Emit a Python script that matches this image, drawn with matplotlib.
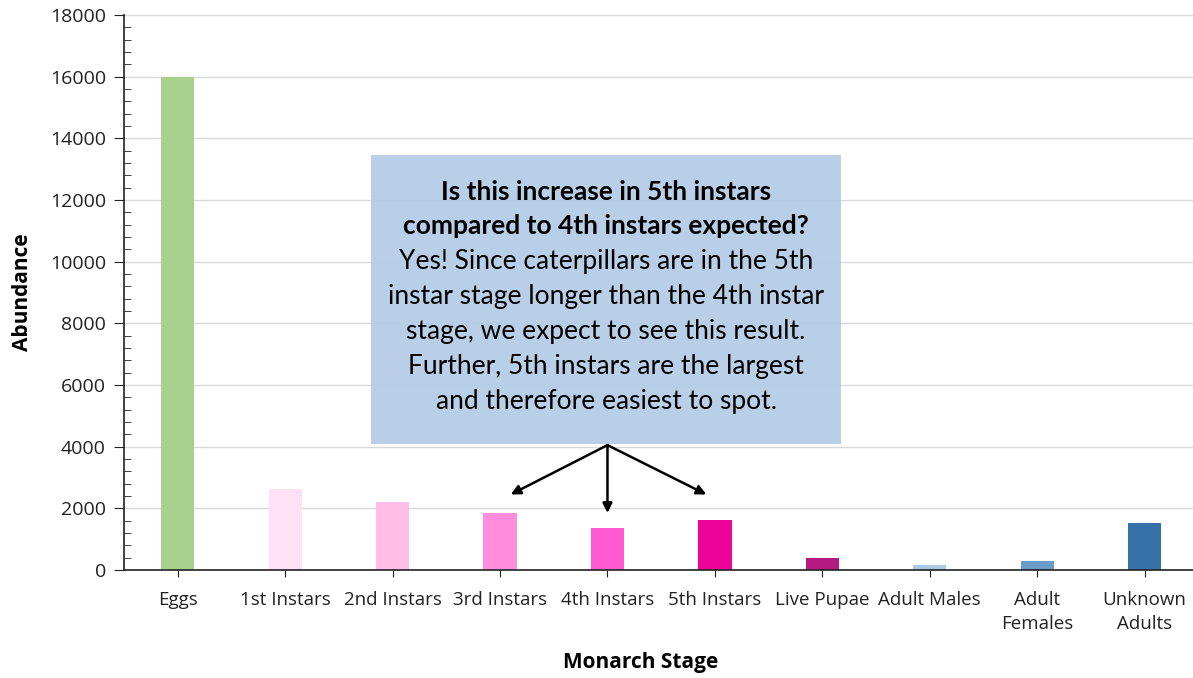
import matplotlib.pyplot as plt
from matplotlib.ticker import MultipleLocator

# Monarch survey counts by stage
stages = ["Eggs", "1st Instars", "2nd Instars", "3rd Instars", "4th Instars",
          "5th Instars", "Live Pupae", "Adult Males", "Adult\nFemales", "Unknown\nAdults"]
abundance = [16000, 2630, 2210, 1860, 1355, 1615, 400, 170, 290, 1535]
colors = ["#A9D18E", "#FFE1F5", "#FFBDE8", "#FF8CDC", "#FF5AD2",
          "#EC0399", "#B51A82", "#A9C9E6", "#6A9AC6", "#3670A9"]

note = ("Yes! Since caterpillars are in the 5th\n"
        "instar stage longer than the 4th instar\n"
        "stage, we expect to see this result.\n"
        "Further, 5th instars are the largest\n"
        "and therefore easiest to spot.")
question = "Is this increase in 5th instars\ncompared to 4th instars expected?"

fig = plt.figure(figsize=(11.93, 6.78), dpi=100)
ax = fig.add_axes([124/1193, 108/678, 1069/1193, 555/678])

x = range(len(stages))
ax.bar(x, abundance, width=0.31, color=colors, zorder=2)

ax.set_ylim(0, 18000)
ax.set_xlim(-0.5, 9.45)
ax.yaxis.set_major_locator(MultipleLocator(2000))
ax.yaxis.set_minor_locator(MultipleLocator(400))
ax.grid(axis="y", color="#D9D9D9", linewidth=1, zorder=0)
ax.set_xticks(list(x))
ax.set_xticklabels(stages, fontsize=13.5, family="Open Sans", color="#222222",
                   linespacing=1.45)
for lab in ax.get_yticklabels():
    lab.set_fontsize(14)
    lab.set_family("Open Sans")
    lab.set_color("#222222")
ax.tick_params(axis="y", which="major", direction="out", length=7, color="#222222", pad=6)
ax.tick_params(axis="y", which="minor", direction="in", length=5, color="#222222")
ax.tick_params(axis="x", direction="out", length=5, pad=10, color="#222222")
for s in ["top", "right"]:
    ax.spines[s].set_visible(False)
for s in ["left", "bottom"]:
    ax.spines[s].set_color("#222222")
    ax.spines[s].set_linewidth(1.2)

ax.set_ylabel("Abundance", fontsize=15, fontweight="bold", family="Open Sans",
              va="center", ha="center")
ax.yaxis.set_label_coords(-0.095, 0.5)
ax.set_xlabel("Monarch Stage", fontsize=15, fontweight="bold", family="Open Sans",
              va="center", ha="center")
ax.xaxis.set_label_coords(0.483, -0.166)

# annotation box
box = plt.Rectangle((371/1193, 1 - 444/678), 470/1193, 289/678, transform=fig.transFigure,
                    facecolor="#B4CDE6", edgecolor="none", alpha=0.95, zorder=5)
fig.patches.append(box)
fig.text(606/1193, 1 - 208.5/678, question, ha="center", va="center", fontsize=19,
         fontweight="bold", family="Lato", linespacing=1.5, zorder=6)
fig.text(606/1193, 1 - 331/678, note, ha="center", va="center", fontsize=19,
         family="Lato", linespacing=1.5, zorder=6)

start = (4.0, 4050)
for tx, ty in [(3.1, 2450), (4.0, 1850), (4.92, 2450)]:
    ax.annotate("", xy=(tx, ty), xytext=start,
                arrowprops=dict(arrowstyle="-|>", color="black", lw=1.8,
                                mutation_scale=14, shrinkA=0, shrinkB=0), zorder=7)

fig.savefig("out.png", dpi=100)
